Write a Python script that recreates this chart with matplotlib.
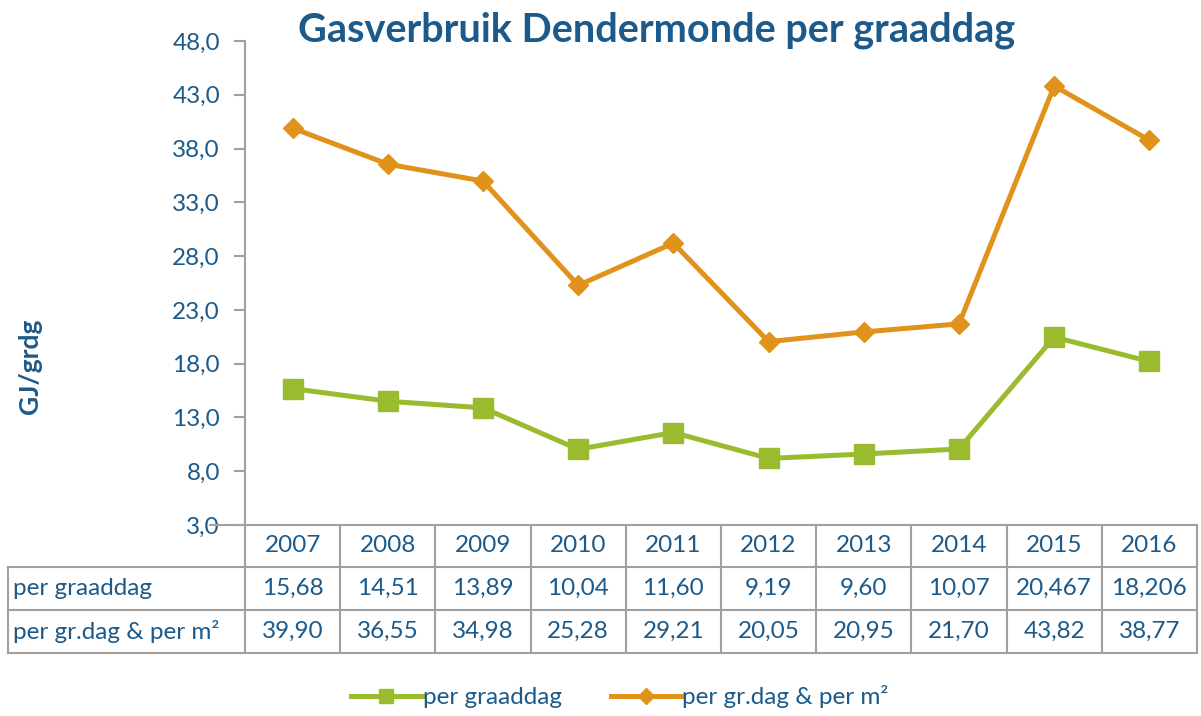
import matplotlib
matplotlib.use("Agg")
import matplotlib.pyplot as plt
from matplotlib.lines import Line2D
from matplotlib.ticker import FuncFormatter

years = ["2007", "2008", "2009", "2010", "2011", "2012", "2013", "2014", "2015", "2016"]
per_graaddag = [15.68, 14.51, 13.89, 10.04, 11.60, 9.19, 9.60, 10.07, 20.467, 18.206]
per_m2 = [39.90, 36.55, 34.98, 25.28, 29.21, 20.05, 20.95, 21.70, 43.82, 38.77]
per_graaddag_txt = ["15,68", "14,51", "13,89", "10,04", "11,60", "9,19", "9,60", "10,07", "20,467", "18,206"]
per_m2_txt = ["39,90", "36,55", "34,98", "25,28", "29,21", "20,05", "20,95", "21,70", "43,82", "38,77"]
series_names = ["per graaddag", "per gr.dag & per m²"]
yticks = [3, 8, 13, 18, 23, 28, 33, 38, 43, 48]

TXT = "#1B5A8A"
GREEN = "#9BBB2F"
ORANGE = "#E0921A"
GRID = "#A0A0A0"
FONT = ["Lato", "DejaVu Sans"]
plt.rcParams["font.family"] = FONT
FS = 17.5

W, H = 1201, 716
fig = plt.figure(figsize=(W / 100, H / 100), dpi=100)

def fx(px):
    return px / W

def fy(py):
    return 1 - py / H

ax_left, ax_right, ax_top, ax_bot = 245, 1197, 41, 525
ax = fig.add_axes([fx(ax_left), fy(ax_bot), fx(ax_right - ax_left), fy(ax_top) - fy(ax_bot)])
x = list(range(len(years)))
ax.plot(x, per_graaddag, color=GREEN, lw=3.6, marker="s", ms=14, label=series_names[0], zorder=3)
ax.plot(x, per_m2, color=ORANGE, lw=3.6, marker="D", ms=10.5, label=series_names[1], zorder=3)
ax.set_xlim(-0.5, len(years) - 0.5)
ax.set_ylim(3, 48)
ax.set_yticks(yticks)
ax.yaxis.set_major_formatter(FuncFormatter(lambda v, p: f"{v:.1f}".replace(".", ",")))
ax.set_xticks([])
for s in ["top", "right", "bottom"]:
    ax.spines[s].set_visible(False)
ax.spines["left"].set_color(GRID)
ax.spines["left"].set_linewidth(1.5)
ax.tick_params(axis="y", colors=GRID, labelcolor=TXT, labelsize=FS, length=8, width=1.5, pad=10)
ax.set_facecolor("none")

fig.text(fx(657), fy(30), "Gasverbruik Dendermonde per graaddag", ha="center", va="center",
         fontsize=28.5, fontweight="bold", color=TXT)
fig.text(fx(30), fy(366), "GJ/grdg", rotation=90, ha="center", va="center",
         fontsize=19, fontweight="bold", color=TXT)

# Data table
row_y = [525, 567, 610, 653]
tab_left = 8
colw = (ax_right - ax_left) / len(years)
lw = 1.5
def hline(x0, x1, y):
    fig.add_artist(Line2D([fx(x0), fx(x1)], [fy(y), fy(y)], color=GRID, lw=lw))
def vline(x0, y0, y1):
    fig.add_artist(Line2D([fx(x0), fx(x0)], [fy(y0), fy(y1)], color=GRID, lw=lw))

hline(ax_left - 35, ax_right, row_y[0])
hline(tab_left, ax_right, row_y[1])
hline(tab_left, ax_right, row_y[2])
hline(tab_left, ax_right, row_y[3])
vline(tab_left, row_y[1], row_y[3])
for i in range(len(years) + 1):
    vline(ax_left + i * colw, row_y[0], row_y[3])

rows = [years, per_graaddag_txt, per_m2_txt]
for r, vals in enumerate(rows):
    yc = (row_y[r] + row_y[r + 1]) / 2
    for i, v in enumerate(vals):
        fig.text(fx(ax_left + (i + 0.5) * colw), fy(yc), v, ha="center", va="center",
                 fontsize=FS, color=TXT)
for r, name in enumerate(series_names):
    yc = (row_y[r + 1] + row_y[r + 2]) / 2
    fig.text(fx(tab_left + 5), fy(yc), name, ha="left", va="center", fontsize=FS, color=TXT)

leg = fig.legend(*ax.get_legend_handles_labels(), loc="center", bbox_to_anchor=(fx(620), fy(697)),
                 ncol=2, frameon=False, fontsize=FS, handlelength=2.9, handletextpad=0.05,
                 columnspacing=2.0, markerscale=0.75)
for t in leg.get_texts():
    t.set_color(TXT)

fig.savefig("out.png", dpi=100)
